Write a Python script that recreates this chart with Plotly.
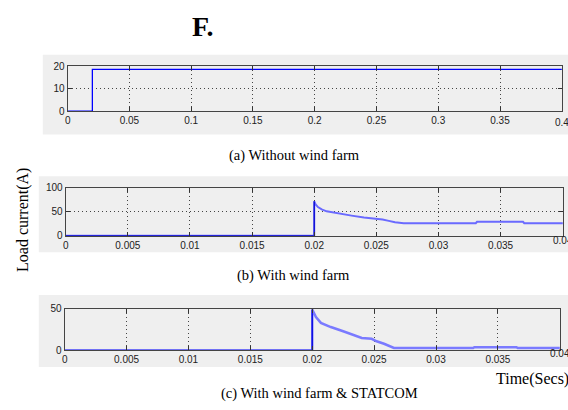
import plotly.graph_objects as go

# Load current waveforms (A) versus time (s)
t_a = [0, 0.02, 0.02, 0.4]
i_a = [0, 0, 18.5, 18.5]

t_b = [0, 0.02, 0.02, 0.0201, 0.0203, 0.0206, 0.021, 0.022, 0.023, 0.024, 0.025,
       0.0255, 0.026, 0.0265, 0.0272, 0.033, 0.0331, 0.0368, 0.0369, 0.04]
i_b = [0, 0, 72, 66, 60, 55, 51, 46, 42, 38, 36,
       34, 31, 28, 26, 26, 29, 29, 26, 26]

t_c = [0, 0.02, 0.02, 0.0203, 0.0207, 0.0215, 0.0225, 0.0235, 0.024, 0.0248,
       0.0252, 0.0258, 0.0262, 0.0266, 0.033, 0.0331, 0.0365, 0.0366, 0.04]
i_c = [0, 0, 49, 40, 33, 28, 23, 18, 15, 14,
       11, 8, 5, 3, 3, 4, 4, 3, 3]

ticks_a_x = [0, 0.05, 0.1, 0.15, 0.2, 0.25, 0.3, 0.35, 0.4]
labels_a_x = ["0", "0.05", "0.1", "0.15", "0.2", "0.25", "0.3", "0.35", "0.4"]
ticks_bc_x = [0, 0.005, 0.01, 0.015, 0.02, 0.025, 0.03, 0.035, 0.04]
labels_bc_x = ["0", "0.005", "0.01", "0.015", "0.02", "0.025", "0.03", "0.035", "0.04"]

W, H = 568, 410


def px(x):
    return x / W


def py(y):
    return 1 - y / H


fig = go.Figure()
fig.add_trace(go.Scatter(x=t_a, y=i_a, mode="lines", line=dict(color="#0000ff", width=1.3),
                         xaxis="x", yaxis="y", showlegend=False))
fig.add_trace(go.Scatter(x=t_b, y=i_b, mode="lines", line=dict(color="#6a6aff", width=2),
                         xaxis="x2", yaxis="y2", showlegend=False))
fig.add_trace(go.Scatter(x=t_b[:3], y=i_b[:3], mode="lines", line=dict(color="#0000cc", width=1.2),
                         xaxis="x2", yaxis="y2", showlegend=False))
fig.add_trace(go.Scatter(x=t_c, y=i_c, mode="lines", line=dict(color="#7a7aff", width=2.5),
                         xaxis="x3", yaxis="y3", showlegend=False))
fig.add_trace(go.Scatter(x=t_c[:3], y=i_c[:3], mode="lines", line=dict(color="#0000dd", width=1.3),
                         xaxis="x3", yaxis="y3", showlegend=False))

tickfont = dict(family="Liberation Sans Narrow, Arial Narrow, Liberation Sans, Arial", size=10, color="#222")
common = dict(showline=True, linecolor="#444", linewidth=1, mirror="ticks", ticks="inside",
              ticklen=4, tickcolor="#333", showgrid=True, gridcolor="#444", griddash="1px,3px",
              gridwidth=1, zeroline=False, tickfont=tickfont, tickmode="array")

EPS = 1.0005
fig.update_layout(
    width=W, height=H, margin=dict(l=0, r=0, t=0, b=0),
    paper_bgcolor="white", plot_bgcolor="white",
    xaxis=dict(common, domain=[px(65), px(562)], range=[0, 0.4 * EPS], anchor="y",
               tickvals=ticks_a_x, ticktext=labels_a_x),
    yaxis=dict(common, domain=[py(109), py(62.7)], range=[0, 20 * EPS], anchor="x",
               tickvals=[0, 10, 20], ticktext=["0", "10", "20"]),
    xaxis2=dict(common, domain=[px(63), px(563)], range=[0, 0.04 * EPS], anchor="y2",
                tickvals=ticks_bc_x, ticktext=labels_bc_x),
    yaxis2=dict(common, domain=[py(237), py(188)], range=[0, 100 * EPS], anchor="x2",
                tickvals=[0, 50, 100], ticktext=["0", "50", "100"]),
    xaxis3=dict(common, domain=[px(62), px(560)], range=[0, 0.04 * EPS], anchor="y3",
                tickvals=ticks_bc_x, ticktext=labels_bc_x),
    yaxis3=dict(common, domain=[py(355), py(312)], range=[0, 50 * EPS], anchor="x3",
                tickvals=[0, 50], ticktext=["0", "50"]),
)

# light gray panels behind each axes
for x0, y0, y1 in [(40, 51, 133), (36, 176, 254), (36, 298, 372)]:
    fig.add_shape(type="rect", xref="paper", yref="paper", x0=px(x0), x1=1,
                  y0=py(y1), y1=py(y0), fillcolor="#efefef", line=dict(width=0), layer="below")

# the last x tick label of each axes runs off the right edge
for xr, val, txt, ylab in [("x", ticks_a_x[-1], labels_a_x[-1], 121),
                           ("x2", ticks_bc_x[-1], labels_bc_x[-1], 242),
                           ("x3", ticks_bc_x[-1], labels_bc_x[-1], 358)]:
    fig.add_annotation(text=txt, xref=xr, yref="paper", x=val, y=py(ylab),
                       xanchor="center", yanchor="middle", showarrow=False,
                       font=tickfont)

serif = "Liberation Serif, Times New Roman, serif"
texts = [
    ("<b>F.</b>", 201, 22, 28, 0),
    ("(a) Without wind farm", 293, 155, 14.5, 0),
    ("(b) With wind farm", 292, 278, 14.5, 0),
    ("(c) With wind farm &amp; STATCOM", 318, 399, 14.5, 0),
    ("Time(Secs)", 532, 384, 16, 0),
    ("Load current(A)", 20, 221, 16, -90),
]
for txt, x, y, size, ang in texts:
    fig.add_annotation(text=txt, xref="paper", yref="paper", x=px(x), y=py(y),
                       xanchor="center", yanchor="middle", showarrow=False, textangle=ang,
                       font=dict(family=serif, size=size, color="black"))

fig.write_html("out.html")
